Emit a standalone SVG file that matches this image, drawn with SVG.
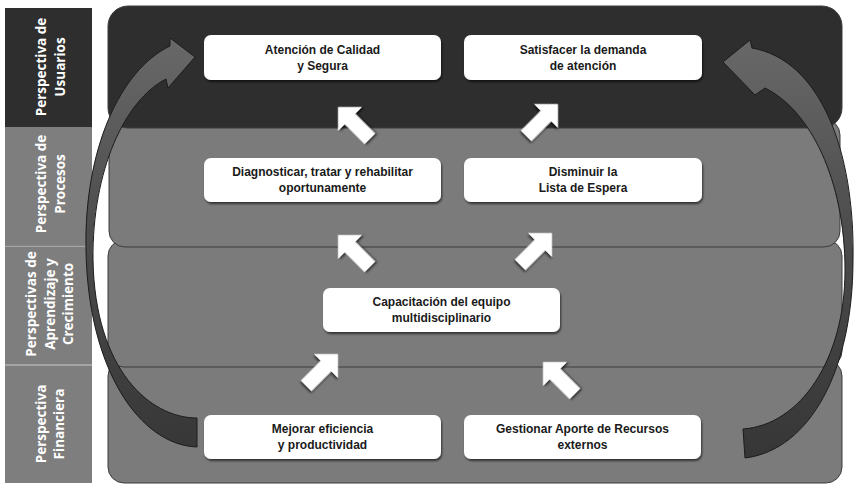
<svg xmlns="http://www.w3.org/2000/svg" width="858" height="485" viewBox="0 0 858 485">
  <defs>
    <style>
      .band-dark { fill: #2e2e2e; }
      .band-grey { fill: #7e7e7e; }
      .panel { stroke: #3c3c3c; stroke-width: 1; }
      .panel-dark { fill: #2e2e2e; }
      .panel-grey { fill: #7b7b7b; }
      .side-label { font-family: "Open Sans", "Liberation Sans", sans-serif; font-weight: 700; font-size: 13.5px; fill: #ffffff; text-anchor: middle; }
      .box { fill: #ffffff; filter: url(#shadow); }
      .box-text { font-family: "Liberation Sans", Arial, sans-serif; font-weight: 700; font-size: 12px; fill: #1a1a1a; text-anchor: middle; }
      .block-arrow { fill: #ffffff; filter: url(#shadow); }
      .curve-arrow { fill: url(#curveFill); stroke: #1c1c1c; stroke-width: 1; }
    </style>
    <filter id="shadow" x="-20%" y="-20%" width="140%" height="160%">
      <feDropShadow dx="1" dy="2" stdDeviation="1.3" flood-color="#000000" flood-opacity="0.6"/>
    </filter>
    <linearGradient id="curveFill" gradientUnits="userSpaceOnUse" x1="0" y1="40" x2="0" y2="460">
      <stop offset="0" stop-color="#686868"/>
      <stop offset="0.5" stop-color="#4a4a4a"/>
      <stop offset="1" stop-color="#363636"/>
    </linearGradient>
    <!-- block arrow pointing up, tip at origin -->
    <path id="upArrow" d="M0,0 L17,17 L7.5,17 L7.5,45 L-7.5,45 L-7.5,17 L-17,17 Z"/>
  </defs>

  <rect width="858" height="485" fill="#ffffff"/>

  <!-- perspective column -->
  <g id="column">
    <rect class="band-dark" x="5" y="8" width="87" height="119"/>
    <rect class="band-grey" x="5" y="127" width="87" height="119"/>
    <rect class="band-grey" x="5" y="246.5" width="87" height="118"/>
    <rect class="band-grey" x="5" y="365.5" width="87" height="117.5"/>
    <line x1="5" y1="246" x2="92" y2="246" stroke="#8c8c8c" stroke-width="1"/>
    <line x1="5" y1="365" x2="92" y2="365" stroke="#8c8c8c" stroke-width="1"/>
  </g>

  <!-- layer panels, lower layers first -->
  <g id="panels">
    <rect id="panel-financiera" class="panel panel-grey" x="108" y="360" width="734" height="123" rx="16"/>
    <rect id="panel-aprendizaje" class="panel panel-grey" x="108" y="240" width="734" height="127" rx="16"/>
    <rect id="panel-procesos" class="panel panel-grey" x="109" y="119" width="731" height="128" rx="16"/>
    <rect id="panel-usuarios" class="panel panel-dark" x="108" y="6" width="734" height="122" rx="20"/>
  </g>

  <g id="labels">
    <g id="label-usuarios" transform="translate(50,67) rotate(-90)">
      <text class="side-label" x="0" y="-4">Perspectiva de</text>
      <text class="side-label" x="0" y="15">Usuarios</text>
    </g>
    <g id="label-procesos" transform="translate(50,184) rotate(-90)">
      <text class="side-label" x="0" y="-4">Perspectiva de</text>
      <text class="side-label" x="0" y="15">Procesos</text>
    </g>
    <g id="label-aprendizaje" transform="translate(50,304) rotate(-90)">
      <text class="side-label" x="0" y="-14">Perspectivas de</text>
      <text class="side-label" x="0" y="4.5">Aprendizaje y</text>
      <text class="side-label" x="0" y="23">Crecimiento</text>
    </g>
    <g id="label-financiera" transform="translate(50,424) rotate(-90)">
      <text class="side-label" x="0" y="-4">Perspectiva</text>
      <text class="side-label" x="0" y="14">Financiera</text>
    </g>
  </g>

  <!-- connectors -->
  <g id="connectors">
    <path id="loop-left" class="curve-arrow" d="M197,418 C150,418 95,370 93,260 C92,170 125,100 166,79 L168,88 L195,57 L170,38 L170,46 C120,70 84,150 86,250 C88,370 140,445 197,447 Z"/>
    <path id="loop-right" class="curve-arrow" d="M743,429 C800,425 845,360 845,270 C845,180 810,110 765,88 L755,95 L723,62 L750,40 L752,48 C820,60 855,150 853,260 C853,370 810,450 745,458 Z"/>
    <use class="block-arrow" href="#upArrow" transform="translate(338,107) rotate(-45)"/>
    <use class="block-arrow" href="#upArrow" transform="translate(558,104) rotate(45)"/>
    <use class="block-arrow" href="#upArrow" transform="translate(338,235) rotate(-45)"/>
    <use class="block-arrow" href="#upArrow" transform="translate(552,233) rotate(45)"/>
    <use class="block-arrow" href="#upArrow" transform="translate(338,354) rotate(45)"/>
    <use class="block-arrow" href="#upArrow" transform="translate(543,362) rotate(-45)"/>
  </g>

  <g id="node-atencion">
    <rect class="box" x="204" y="35" width="237" height="45" rx="7"/>
    <text class="box-text" x="322.5" y="54">Atención de Calidad</text>
    <text class="box-text" x="322.5" y="70">y Segura</text>
  </g>
  <g id="node-satisfacer">
    <rect class="box" x="464" y="35" width="238" height="45" rx="7"/>
    <text class="box-text" x="583" y="54">Satisfacer la demanda</text>
    <text class="box-text" x="583" y="70">de atención</text>
  </g>
  <g id="node-diagnosticar">
    <rect class="box" x="204" y="158" width="237" height="44" rx="7"/>
    <text class="box-text" x="322.5" y="176">Diagnosticar, tratar y rehabilitar</text>
    <text class="box-text" x="322.5" y="192">oportunamente</text>
  </g>
  <g id="node-disminuir">
    <rect class="box" x="464" y="158" width="238" height="44" rx="7"/>
    <text class="box-text" x="583" y="176">Disminuir la</text>
    <text class="box-text" x="583" y="192">Lista de Espera</text>
  </g>
  <g id="node-capacitacion">
    <rect class="box" x="323" y="288" width="237" height="44" rx="7"/>
    <text class="box-text" x="441.5" y="306">Capacitación del equipo</text>
    <text class="box-text" x="441.5" y="322">multidisciplinario</text>
  </g>
  <g id="node-mejorar">
    <rect class="box" x="204" y="415" width="237" height="44" rx="7"/>
    <text class="box-text" x="322.5" y="433">Mejorar eficiencia</text>
    <text class="box-text" x="322.5" y="449">y productividad</text>
  </g>
  <g id="node-gestionar">
    <rect class="box" x="464" y="415" width="237" height="44" rx="7"/>
    <text class="box-text" x="582.5" y="433">Gestionar Aporte de Recursos</text>
    <text class="box-text" x="582.5" y="449">externos</text>
  </g>
</svg>
